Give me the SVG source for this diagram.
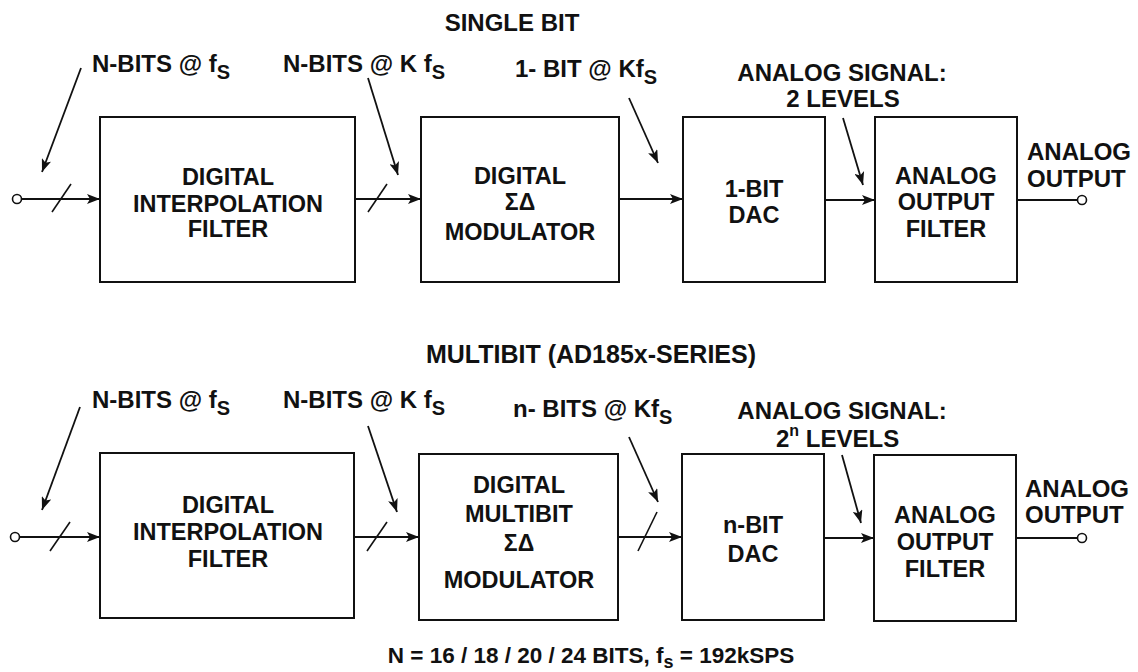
<svg xmlns="http://www.w3.org/2000/svg" width="1138" height="672" viewBox="0 0 1138 672">
<style>
text{font-family:"Liberation Sans",Arial,sans-serif;font-weight:bold;fill:#111}
.t{font-size:24px}
.lbl{font-size:24px}
.bx{font-size:23.5px;text-anchor:middle}
.sg{font-size:23px}
.sub{font-size:20px}
.box{fill:#fff;stroke:#111;stroke-width:2}
.ln{stroke:#111;stroke-width:1.8;fill:none}
.sl{stroke:#111;stroke-width:1.6;fill:none}
.term{fill:#fff;stroke:#111;stroke-width:1.6}
</style>
<defs>
<marker id="ah" markerUnits="userSpaceOnUse" markerWidth="14" markerHeight="10" refX="13" refY="5" orient="auto">
<path d="M0,0 L13,5 L0,10 L3,5 z" fill="#111"/>
</marker>
</defs>

<text class="t" x="512" y="31" text-anchor="middle">SINGLE BIT</text>
<text class="t" x="591" y="363" text-anchor="middle" style="font-size:25px">MULTIBIT (AD185x-SERIES)</text>

<!-- top row nodes -->
<g id="t-interp"><rect class="box" x="100" y="117" width="255" height="165"/>
<text class="bx" x="228" y="185">DIGITAL</text><text class="bx" x="228" y="212">INTERPOLATION</text><text class="bx" x="228" y="237">FILTER</text></g>
<g id="t-mod"><rect class="box" x="421" y="117" width="198" height="165"/>
<text class="bx" x="520" y="184">DIGITAL</text><text class="bx sg" x="520" y="210">ΣΔ</text><text class="bx" x="520" y="240">MODULATOR</text></g>
<g id="t-dac"><rect class="box" x="683" y="117" width="142" height="165"/>
<text class="bx" x="754" y="197">1-BIT</text><text class="bx" x="754" y="223">DAC</text></g>
<g id="t-filt"><rect class="box" x="875" y="117" width="142" height="165"/>
<text class="bx" x="946" y="184">ANALOG</text><text class="bx" x="946" y="210">OUTPUT</text><text class="bx" x="946" y="237">FILTER</text></g>

<!-- bottom row nodes -->
<g id="b-interp"><rect class="box" x="100" y="453" width="254" height="165"/>
<text class="bx" x="228" y="513">DIGITAL</text><text class="bx" x="228" y="540">INTERPOLATION</text><text class="bx" x="228" y="567">FILTER</text></g>
<g id="b-mod"><rect class="box" x="419" y="454" width="199" height="166"/>
<text class="bx" x="519" y="493">DIGITAL</text><text class="bx" x="519" y="522">MULTIBIT</text><text class="bx sg" x="519" y="551">ΣΔ</text><text class="bx" x="519" y="588">MODULATOR</text></g>
<g id="b-dac"><rect class="box" x="682" y="454" width="142" height="166"/>
<text class="bx" x="753" y="533">n-BIT</text><text class="bx" x="753" y="562">DAC</text></g>
<g id="b-filt"><rect class="box" x="874" y="455" width="142" height="166"/>
<text class="bx" x="945" y="523">ANALOG</text><text class="bx" x="945" y="550">OUTPUT</text><text class="bx" x="945" y="577">FILTER</text></g>

<!-- labels -->
<g id="labels">
<text class="lbl" x="92" y="72">N-BITS @ f<tspan class="sub" dy="7">S</tspan></text>
<text class="lbl" x="283" y="72">N-BITS @ K f<tspan class="sub" dy="7">S</tspan></text>
<text class="lbl" x="515" y="77">1- BIT @ Kf<tspan class="sub" dy="7">S</tspan></text>
<text class="lbl" x="842" y="81" text-anchor="middle">ANALOG SIGNAL:</text>
<text class="lbl" x="843" y="107" text-anchor="middle">2 LEVELS</text>
<text class="lbl" x="1027" y="160">ANALOG</text>
<text class="lbl" x="1027" y="187">OUTPUT</text>

<text class="lbl" x="92" y="408">N-BITS @ f<tspan class="sub" dy="7">S</tspan></text>
<text class="lbl" x="283" y="408">N-BITS @ K f<tspan class="sub" dy="7">S</tspan></text>
<text class="lbl" x="513" y="417">n- BITS @ Kf<tspan class="sub" dy="7">S</tspan></text>
<text class="lbl" x="842" y="419" text-anchor="middle">ANALOG SIGNAL:</text>
<text class="lbl" x="776" y="447">2<tspan dy="-11" style="font-size:16px">n</tspan><tspan dy="11"> LEVELS</tspan></text>
<text class="lbl" x="1025" y="497">ANALOG</text>
<text class="lbl" x="1025" y="523">OUTPUT</text>

<text class="lbl" x="591" y="663" text-anchor="middle" style="font-size:22.5px">N = 16 / 18 / 20 / 24 BITS, f<tspan style="font-size:18px" dy="5">s</tspan><tspan dy="-5"> = 192kSPS</tspan></text>
</g>

<!-- connectors -->
<g id="connectors">
<circle class="term" cx="17" cy="199" r="4.5"/>
<line class="ln" x1="21.5" y1="199" x2="100" y2="199" marker-end="url(#ah)"/>
<line class="sl" x1="52" y1="212" x2="71" y2="184"/>
<line class="ln" x1="355" y1="199" x2="421" y2="199" marker-end="url(#ah)"/>
<line class="sl" x1="368" y1="212" x2="387" y2="184"/>
<line class="ln" x1="619" y1="199" x2="683" y2="199" marker-end="url(#ah)"/>
<line class="ln" x1="825" y1="200" x2="875" y2="200" marker-end="url(#ah)"/>
<line class="ln" x1="1017" y1="200" x2="1077.5" y2="200"/>
<circle class="term" cx="1082" cy="200" r="4.5"/>

<line class="ln" x1="81" y1="68" x2="42" y2="172" marker-end="url(#ah)"/>
<line class="ln" x1="368" y1="78" x2="398" y2="175" marker-end="url(#ah)"/>
<line class="ln" x1="629" y1="98" x2="658" y2="163" marker-end="url(#ah)"/>
<line class="ln" x1="843" y1="118" x2="863" y2="185" marker-end="url(#ah)"/>

<circle class="term" cx="15" cy="537" r="4.5"/>
<line class="ln" x1="19.5" y1="537" x2="100" y2="537" marker-end="url(#ah)"/>
<line class="sl" x1="50" y1="551" x2="70" y2="522"/>
<line class="ln" x1="354" y1="537" x2="419" y2="537" marker-end="url(#ah)"/>
<line class="sl" x1="367" y1="551" x2="387" y2="522"/>
<line class="ln" x1="618" y1="537" x2="682" y2="537" marker-end="url(#ah)"/>
<line class="sl" x1="638" y1="551" x2="657" y2="512"/>
<line class="ln" x1="824" y1="538" x2="874" y2="538" marker-end="url(#ah)"/>
<line class="ln" x1="1016" y1="538" x2="1077.5" y2="538"/>
<circle class="term" cx="1082" cy="538" r="4.5"/>

<line class="ln" x1="80" y1="407" x2="42" y2="510" marker-end="url(#ah)"/>
<line class="ln" x1="368" y1="426" x2="397" y2="512" marker-end="url(#ah)"/>
<line class="ln" x1="629" y1="437" x2="658" y2="502" marker-end="url(#ah)"/>
<line class="ln" x1="842" y1="455" x2="861" y2="523" marker-end="url(#ah)"/>
</g>
</svg>
